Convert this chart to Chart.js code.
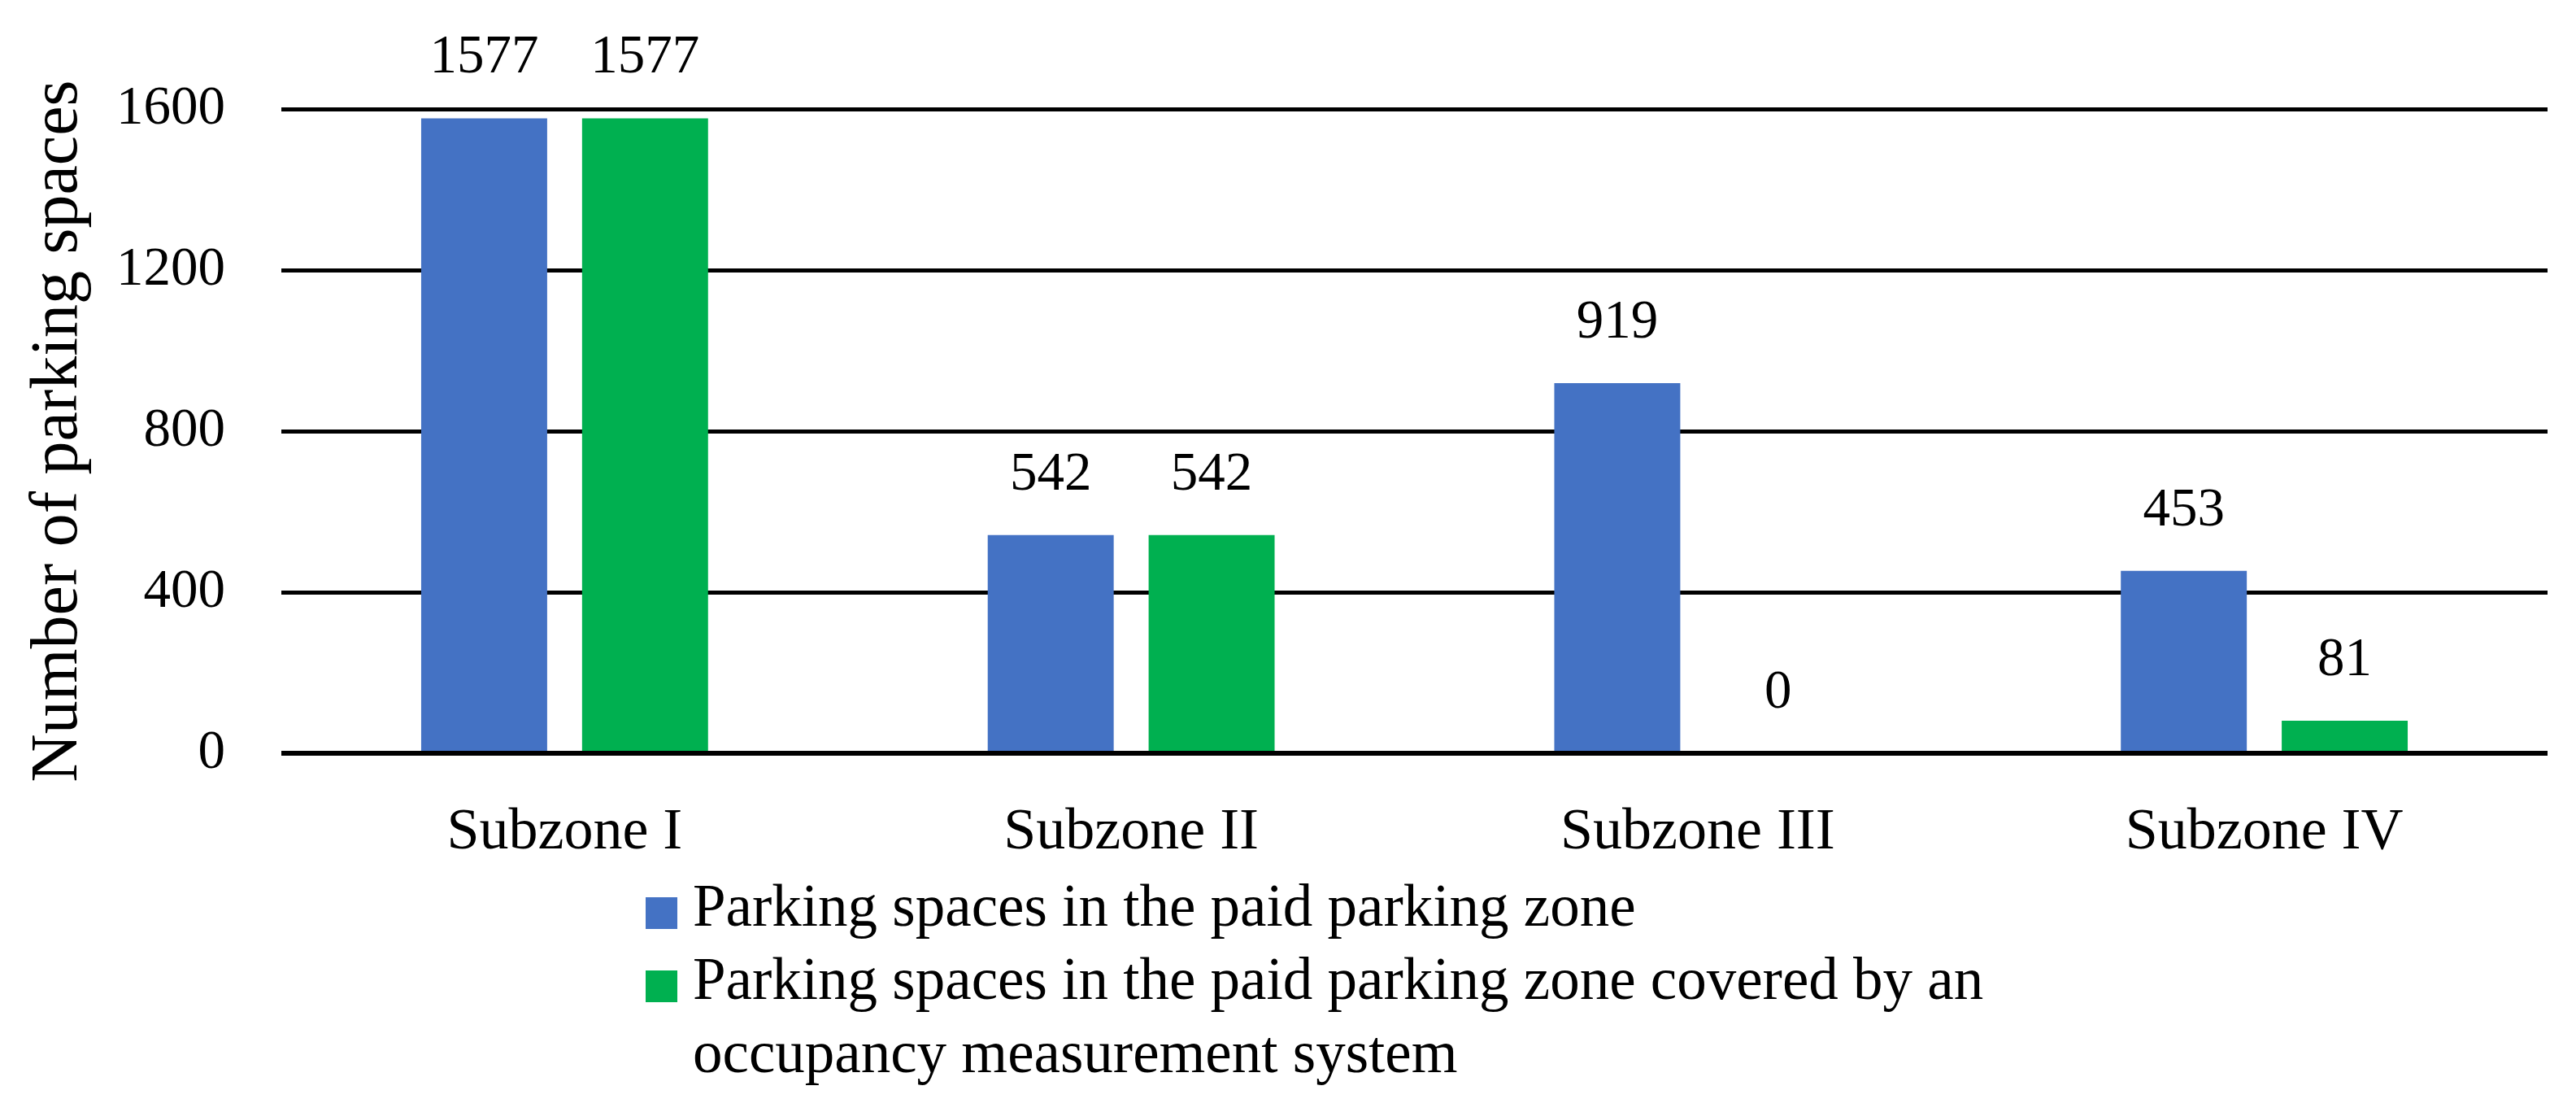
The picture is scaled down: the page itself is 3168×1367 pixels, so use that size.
<!DOCTYPE html>
<html>
<head>
<meta charset="utf-8">
<script src="https://cdn.jsdelivr.net/npm/chart.js@4.4.1/dist/chart.umd.min.js"></script>
<style>
  html, body { margin: 0; padding: 0; background: #fff; }
  #wrap { position: relative; width: 3168px; height: 1367px; }
  #legenda {
    position: absolute; left: 794px; top: 1069px;
    font-family: 'Liberation Serif', serif; font-size: 73px; line-height: 90px; color: #000;
  }
  .item { display: flex; align-items: flex-start; }
  .caixa { width: 39px; height: 39px; margin-top: 34px; margin-right: 19px; flex: none; }
  .rotulo { width: 1780px; }
</style>
</head>
<body>
<div id="wrap">
  <canvas id="grafico" width="3168" height="1367"></canvas>
  <div id="legenda"></div>
</div>
<script>
const categorias = ['Subzone I', 'Subzone II', 'Subzone III', 'Subzone IV'];
const vagasPagas = [1577, 542, 919, 453];
const vagasMedidas = [1577, 542, 0, 81];
const nomesSeries = [
    'Parking spaces in the paid parking zone',
    'Parking spaces in the paid parking zone covered by an occupancy measurement system'
];
const coresSeries = ['#4472C4', '#00B050'];
const ticksY = [0, 400, 800, 1200, 1600];

const fonte = "'Liberation Serif', serif";

// valores acima das barras
const rotulosBarras = {
    id: 'rotulosBarras',
    afterDatasetsDraw(chart) {
        const ctx = chart.ctx;
        ctx.save();
        ctx.font = '67px ' + fonte;
        ctx.fillStyle = '#000';
        ctx.textAlign = 'center';
        ctx.textBaseline = 'alphabetic';
        chart.data.datasets.forEach((ds, i) => {
            chart.getDatasetMeta(i).data.forEach((bar, j) => {
                ctx.fillText(String(ds.data[j]), bar.x, bar.y - 56);
            });
        });
        // linha do zero por cima das barras
        const y0 = chart.scales.y.getPixelForValue(0);
        ctx.strokeStyle = '#000';
        ctx.lineWidth = 6;
        ctx.beginPath();
        ctx.moveTo(chart.chartArea.left, y0);
        ctx.lineTo(chart.chartArea.right, y0);
        ctx.stroke();
        ctx.restore();
    }
};

const grafico = new Chart(document.getElementById('grafico'), {
    type: 'bar',
    data: {
        labels: categorias,
        datasets: [
            { label: nomesSeries[0], data: vagasPagas, backgroundColor: coresSeries[0] },
            { label: nomesSeries[1], data: vagasMedidas, backgroundColor: coresSeries[1] }
        ]
    },
    options: {
        responsive: false,
        animation: false,
        devicePixelRatio: 1,
        layout: { padding: { left: 0, right: 35, top: 134, bottom: 0 } },
        datasets: { bar: { categoryPercentage: 0.568, barPercentage: 0.783 } },
        plugins: { legend: { display: false }, tooltip: { enabled: false } },
        scales: {
            x: {
                grid: { display: false, drawTicks: false },
                border: { display: false },
                ticks: { color: '#000', font: { family: fonte, size: 72 }, padding: 55, maxRotation: 0 },
                afterFit: s => { s.height = 441; }
            },
            y: {
                min: 0,
                max: 1600,
                afterBuildTicks: s => { s.ticks = ticksY.map(v => ({ value: v })); },
                grid: { color: '#000', lineWidth: 5, drawTicks: false },
                border: { display: false },
                ticks: {
                    color: '#000',
                    font: { family: fonte, size: 67 },
                    padding: 69,
                    callback: v => String(v)
                },
                title: {
                    display: true,
                    text: 'Number of parking spaces',
                    color: '#000',
                    font: { family: fonte, size: 82 },
                    padding: { top: 23, bottom: 0 }
                },
                afterFit: s => { s.width = 346; }
            }
        }
    },
    plugins: [rotulosBarras]
});

// legenda em HTML, montada a partir dos datasets
const legenda = document.getElementById('legenda');
grafico.data.datasets.forEach(ds => {
    const item = document.createElement('div');
    item.className = 'item';
    const caixa = document.createElement('span');
    caixa.className = 'caixa';
    caixa.style.background = ds.backgroundColor;
    const rotulo = document.createElement('span');
    rotulo.className = 'rotulo';
    rotulo.textContent = ds.label;
    item.appendChild(caixa);
    item.appendChild(rotulo);
    legenda.appendChild(item);
});
</script>
</body>
</html>
